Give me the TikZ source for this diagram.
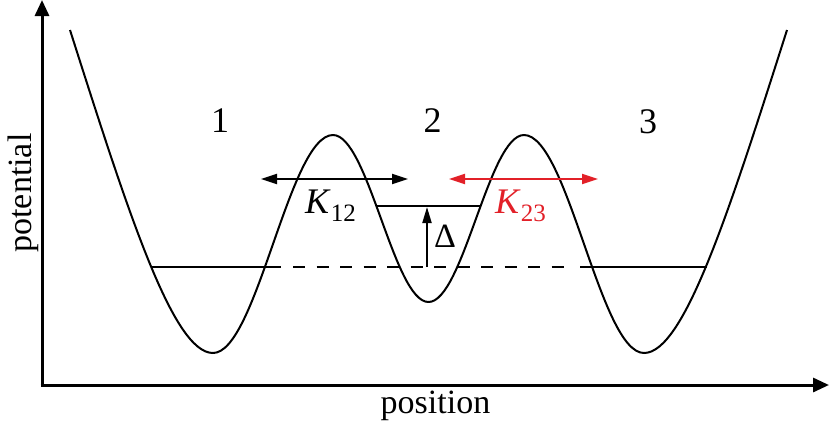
\documentclass[tikz,border=0pt]{standalone}
\usepackage{fontspec}
\setmainfont{Liberation Serif}
\usetikzlibrary{arrows.meta}
\definecolor{kred}{RGB}{226,32,40}
\tikzset{
  curve/.style={line width=2pt, line join=round},
  level/.style={line width=2pt},
  axis/.style={line width=3pt, -{Triangle[length=16pt,width=14pt]}},
  rate/.style={line width=2pt, {Triangle[length=16pt,width=10pt]}-{Triangle[length=16pt,width=10pt]}},
  gap/.style={line width=2pt, -{Triangle[length=16pt,width=9pt]}},
  lbl/.style={inner sep=0pt, font=\fontsize{36}{36}\selectfont},
  big/.style={inner sep=0pt, font=\fontsize{34}{34}\selectfont},
  kl/.style={inner sep=0pt, font=\fontsize{36}{36}\selectfont},
}
\begin{document}
\begin{tikzpicture}[x=1pt,y=-1pt]
\useasboundingbox (0,0) rectangle (830,429);
% axes
\coordinate (O) at (42,385);
\coordinate (Ytop) at (42,0);
\coordinate (Xend) at (829,385);
\draw[axis] ([yshift=-1.5pt]O) -- (Ytop);
\draw[axis] ([xshift=-1.5pt]O) -- (Xend);
% potential curve
\draw[curve] (70,30) .. controls (128,212) and (173,353) .. (213,353)
  .. controls (256.7,353) and (289.3,135) .. (333,135)
  .. controls (368,135) and (394,302) .. (428.5,302)
  .. controls (463,302) and (489,135) .. (524,135)
  .. controls (567.7,135) and (600.3,353) .. (644,353)
  .. controls (684,353) and (729,212) .. (787,30);
% ground level
\coordinate (g1) at (151,267);
\coordinate (g2) at (281,267);
\coordinate (g3) at (293,267);
\coordinate (g4) at (567,267);
\coordinate (g5) at (580,267);
\coordinate (g6) at (707,267);
\draw[level] (g1) -- (g2);
\draw[level, dash pattern=on 12pt off 11.5pt] (g3) -- (g4);
\draw[level] (g5) -- (g6);
% upper level
\coordinate (u1) at (377,206);
\coordinate (u2) at (481,206);
\draw[level] (u1) -- (u2);
% gap arrow
\coordinate (d1) at (427,267);
\coordinate (d2) at (427,207);
\draw[gap] (d1) -- (d2);
% rate arrows
\coordinate (a1) at (261,179);
\coordinate (a2) at (408,179);
\coordinate (b1) at (449,179);
\coordinate (b2) at (598,179);
\draw[rate] (a1) -- (a2);
\draw[rate, kred] (b1) -- (b2);
% labels
\node[lbl] (n1) at (220,121) {1};
\node[lbl] (n2) at (432.5,121) {2};
\node[lbl] (n3) at (648,122) {3};
\node[kl, anchor=base west] (k12) at (305,213) {\textit{K}\raisebox{-8pt}{\fontsize{25}{25}\selectfont 12}};
\node[kl, anchor=base west, text=kred] (k23) at (495,213) {\textit{K}\raisebox{-8pt}{\fontsize{25}{25}\selectfont 23}};
\node[big, anchor=base west] (dl) at (434,247) {Δ};
\node[big, anchor=base] (xl) at (435.5,413) {position};
\node[big, anchor=base, rotate=90] (yl) at (31,193) {potential};
\end{tikzpicture}
\end{document}
